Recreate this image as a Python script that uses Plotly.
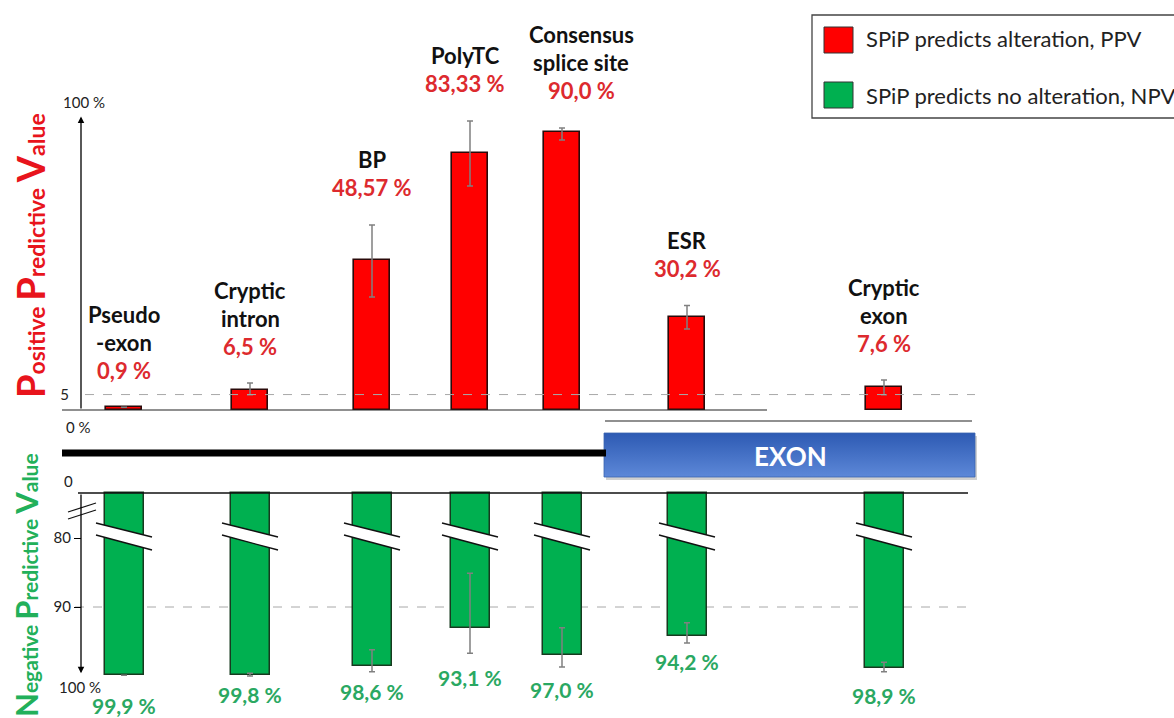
import plotly.graph_objects as go

# ---------------- data ----------------
categories = ["Pseudo<br>-exon", "Cryptic<br>intron", "BP", "PolyTC",
              "Consensus<br>splice site", "ESR", "Cryptic<br>exon"]
ppv = [0.9, 6.5, 48.57, 83.33, 90.0, 30.2, 7.6]
ppv_err_plus = [0.0, 2.2, 11.3, 10.2, 1.3, 3.6, 2.1]
ppv_err_minus = [0.0, 1.6, 12.0, 10.8, 2.6, 4.0, 2.7]
ppv_labels = ["0,9 %", "6,5 %", "48,57 %", "83,33 %", "90,0 %", "30,2 %", "7,6 %"]

npv = [99.9, 99.8, 98.6, 93.1, 97.0, 94.2, 98.9]
npv_err_plus = [0.0, 0.2, 0.8, 3.6, 1.7, 1.0, 0.5]
npv_err_minus = [0.0, 0.2, 2.4, 8.0, 4.0, 1.9, 0.9]
npv_labels = ["99,9 %", "99,8 %", "98,6 %", "93,1 %", "97,0 %", "94,2 %", "98,9 %"]

legend_labels = ["SPiP predicts alteration, PPV", "SPiP predicts no alteration, NPV"]

# ---------------- layout / style ----------------
W, H = 1174, 718
x_pos = [124, 250, 372, 470, 562, 687, 884]      # horizontal placement of the categories
label_dx = [0, 0, 0, -5, 19, 0, 0]
npv_label_dy = [-30, -18, -20, -24, -22, -19, -24]
NPV_ZERO = 73.48          # where "0" sits on the broken NPV axis
AXIS_X = 81

RED = "#ff0000"
GREEN = "#00b050"
RED_TXT = "#dd2a2e"
GREEN_TXT = "#2aa862"
FONT = "Lato"


def py(px):
    """pixel row -> paper y"""
    return 1 - px / H


fig = go.Figure()

fig.add_trace(go.Bar(
    x=x_pos, y=ppv, width=36, yaxis="y", xaxis="x",
    marker=dict(color=RED, line=dict(color="#2a0a0a", width=1.6)),
    error_y=dict(type="data", symmetric=False, array=ppv_err_plus,
                 arrayminus=ppv_err_minus, color="#808080", thickness=1.5, width=3),
    name=legend_labels[0], showlegend=False, hoverinfo="skip"))

fig.add_trace(go.Bar(
    x=x_pos, y=[v - NPV_ZERO for v in npv], base=NPV_ZERO, width=39,
    yaxis="y2", xaxis="x",
    marker=dict(color=GREEN, line=dict(color="#173a1f", width=1.5)),
    error_y=dict(type="data", symmetric=False, array=npv_err_plus,
                 arrayminus=npv_err_minus, color="#808080", thickness=1.5, width=3),
    name=legend_labels[1], showlegend=False, hoverinfo="skip"))

# EXON box with vertical gradient (on its own pixel-scaled axis)
fig.add_trace(go.Scatter(
    x=[606, 977, 977, 606, 606], y=[436, 436, 480, 480, 436], yaxis="y3",
    mode="lines", line=dict(width=0), fill="toself",
    fillcolor="rgba(150,150,150,0.45)", hoverinfo="skip", showlegend=False))
fig.add_trace(go.Scatter(
    x=[604, 975, 975, 604, 604], y=[433, 433, 477, 477, 433], yaxis="y3",
    mode="lines", line=dict(width=0.8, color="#3a64b0"), fill="toself",
    fillgradient=dict(type="vertical",
                      colorscale=[[0, "#5d88d8"], [1, "#2d5ab3"]]),
    hoverinfo="skip", showlegend=False))

shapes = []
ann = []

# dashed reference lines
shapes.append(dict(type="line", xref="x", yref="y", x0=85, x1=975, y0=5, y1=5,
                   line=dict(color="#a8a8a8", width=1, dash="dash"), layer="above"))
shapes.append(dict(type="line", xref="x", yref="y2", x0=75, x1=975, y0=90, y1=90,
                   line=dict(color="#a8a8a8", width=1, dash="dash"), layer="below"))

# base lines
shapes.append(dict(type="line", xref="x", yref="y", x0=62, x1=767, y0=0, y1=0,
                   line=dict(color="#222", width=1.2)))
shapes.append(dict(type="line", xref="x", yref="paper", x0=605, x1=972,
                   y0=py(421), y1=py(421), line=dict(color="#222", width=1.2)))
shapes.append(dict(type="line", xref="x", yref="y2", x0=78, x1=968,
                   y0=NPV_ZERO, y1=NPV_ZERO, line=dict(color="#111", width=1.3)))

# thick intron line
shapes.append(dict(type="line", xref="x", yref="paper", x0=62, x1=606,
                   y0=py(453), y1=py(453), line=dict(color="black", width=7)))

# broken-bar marks on every NPV bar
for xc in x_pos:
    xl, xr = xc - 28, xc + 28
    shapes.append(dict(type="path", xref="x", yref="paper",
                       path=f"M {xl},{py(523)} L {xr},{py(537)} L {xr},{py(550)} L {xl},{py(535)} Z",
                       fillcolor="white", line=dict(width=0)))
    shapes.append(dict(type="line", xref="x", yref="paper", x0=xl, x1=xr,
                       y0=py(523), y1=py(537), line=dict(color="#111", width=1.3)))
    shapes.append(dict(type="line", xref="x", yref="paper", x0=xl, x1=xr,
                       y0=py(535), y1=py(550), line=dict(color="#111", width=1.3)))

# axis break symbol on NPV axis
shapes.append(dict(type="path", xref="x", yref="paper",
                   path=f"M 68,{py(512)} L 96,{py(503)} L 96,{py(510)} L 68,{py(519)} Z",
                   fillcolor="white", line=dict(width=0)))
shapes.append(dict(type="line", xref="x", yref="paper", x0=68, x1=96,
                   y0=py(512), y1=py(503), line=dict(color="#111", width=1.2)))
shapes.append(dict(type="line", xref="x", yref="paper", x0=68, x1=96,
                   y0=py(519), y1=py(510), line=dict(color="#111", width=1.2)))

# legend box
shapes.append(dict(type="rect", xref="x", yref="paper", x0=812, x1=1200,
                   y0=py(15), y1=py(118), line=dict(color="#444", width=1.3),
                   fillcolor="white"))
shapes.append(dict(type="rect", xref="x", yref="paper", x0=824, x1=853,
                   y0=py(27), y1=py(53), line=dict(color="#333", width=1),
                   fillcolor=RED))
shapes.append(dict(type="rect", xref="x", yref="paper", x0=824, x1=853,
                   y0=py(82), y1=py(108), line=dict(color="#333", width=1),
                   fillcolor=GREEN))
for lab, yy in zip(legend_labels, [39, 95]):
    ann.append(dict(x=864, y=py(yy), xref="x", yref="paper", text=lab,
                    showarrow=False, xanchor="left", yanchor="middle",
                    font=dict(family=FONT, size=22, color="#222")))

# axis arrows
ann.append(dict(x=AXIS_X, y=95, xref="x", yref="y", ax=AXIS_X, ay=0,
                axref="x", ayref="y", text="", showarrow=True, arrowhead=2,
                arrowsize=1, arrowwidth=1.3, arrowcolor="black"))
ann.append(dict(x=AXIS_X, y=99.6, xref="x", yref="y2", ax=AXIS_X, ay=NPV_ZERO,
                axref="x", ayref="y2", text="", showarrow=True, arrowhead=2,
                arrowsize=1, arrowwidth=1.3, arrowcolor="black"))

tick_font = dict(family=FONT, size=15, color="#222")
ann.append(dict(x=84, y=100, xref="x", yref="y", text="100 %", showarrow=False,
                xanchor="center", yanchor="middle", yshift=-1, font=tick_font))
ann.append(dict(x=78, y=0, xref="x", yref="y", text="0 %", showarrow=False,
                xanchor="center", yanchor="middle", yshift=-17, font=tick_font))
ann.append(dict(x=68, y=NPV_ZERO, xref="x", yref="y2", text="0", showarrow=False,
                xanchor="center", yanchor="middle", yshift=12, font=tick_font))
ann.append(dict(x=80, y=100, xref="x", yref="y2", text="100 %", showarrow=False,
                xanchor="center", yanchor="middle", yshift=-11, font=tick_font))

# axis titles
ann.append(dict(x=30, y=py(256), xref="x", yref="paper", textangle=-90, showarrow=False,
                xanchor="center", yanchor="middle",
                text=("<b><span style='font-size:38px'>P</span>ositive "
                      "<span style='font-size:38px'>P</span>redictive "
                      "<span style='font-size:38px'>V</span>alue</b>"),
                font=dict(family=FONT, size=23, color="#e8141c")))
ann.append(dict(x=26, y=py(585), xref="x", yref="paper", textangle=-90, showarrow=False,
                xanchor="center", yanchor="middle",
                text=("<b><span style='font-size:31px'>N</span>egative "
                      "<span style='font-size:31px'>P</span>redictive "
                      "<span style='font-size:31px'>V</span>alue</b>"),
                font=dict(family=FONT, size=21, color="#22b05a")))

# category / value labels (PPV side)
for name, xc, v, ep, lab, dx in zip(categories, x_pos, ppv, ppv_err_plus, ppv_labels, label_dx):
    top = v + ep
    ann.append(dict(x=xc, y=top, xref="x", yref="y", text=f"<b>{lab}</b>",
                    showarrow=False, xanchor="center", yanchor="middle",
                    yshift=37, xshift=dx,
                    font=dict(family=FONT, size=22, color=RED_TXT)))
    lines = name.split("<br>")
    for k, ln in enumerate(reversed(lines)):
        ann.append(dict(x=xc, y=top, xref="x", yref="y", text=f"<b>{ln}</b>",
                        showarrow=False, xanchor="center", yanchor="middle",
                        yshift=37 + 28 * (k + 1), xshift=dx,
                        font=dict(family=FONT, size=22, color="#111")))

# NPV value labels
for xc, v, ep, lab, dy in zip(x_pos, npv, npv_err_plus, npv_labels, npv_label_dy):
    ann.append(dict(x=xc, y=v + ep, xref="x", yref="y2", text=f"<b>{lab}</b>",
                    showarrow=False, xanchor="center", yanchor="middle", yshift=dy,
                    font=dict(family=FONT, size=21, color=GREEN_TXT)))

# EXON label
ann.append(dict(x=790, y=py(456), xref="x", yref="paper", text="<b>EXON</b>",
                showarrow=False, xanchor="center", yanchor="middle",
                font=dict(family=FONT, size=26, color="white")))

up_top, up_bot = 60, 430
lo_top, lo_bot = 470, 718
px_per_up = 3.09
px_per_lo = 6.9

fig.update_layout(
    width=W, height=H, margin=dict(l=0, r=0, t=0, b=0),
    paper_bgcolor="white", plot_bgcolor="white",
    font=dict(family=FONT),
    showlegend=False, bargap=0,
    xaxis=dict(domain=[0, 1], range=[0, W], visible=False, fixedrange=True),
    yaxis=dict(domain=[py(up_bot), py(up_top)],
               range=[(410 - up_bot) / px_per_up, (410 - up_top) / px_per_up],
               anchor="free", position=AXIS_X / W,
               showgrid=False, zeroline=False, showline=False,
               tickvals=[5], ticktext=["5"], ticks="outside", ticklen=9,
               tickcolor="rgba(0,0,0,0)", tickfont=tick_font),
    yaxis2=dict(domain=[py(lo_bot), py(lo_top)],
                range=[80 + (lo_bot - 538) / px_per_lo, 80 + (lo_top - 538) / px_per_lo],
                anchor="free", position=AXIS_X / W,
                showgrid=False, zeroline=False, showline=False,
                tickvals=[80, 90], ticktext=["80", "90"], ticks="outside",
                ticklen=7, tickcolor="black", tickwidth=1.2, tickfont=tick_font),
    yaxis3=dict(domain=[py(490), py(425)], range=[490, 425], visible=False,
                anchor="x"),
    shapes=shapes, annotations=ann,
)

fig.write_html("out.html", config={"displayModeBar": False},
               post_script="document.body.style.margin='0px';document.body.style.overflow='hidden';")
